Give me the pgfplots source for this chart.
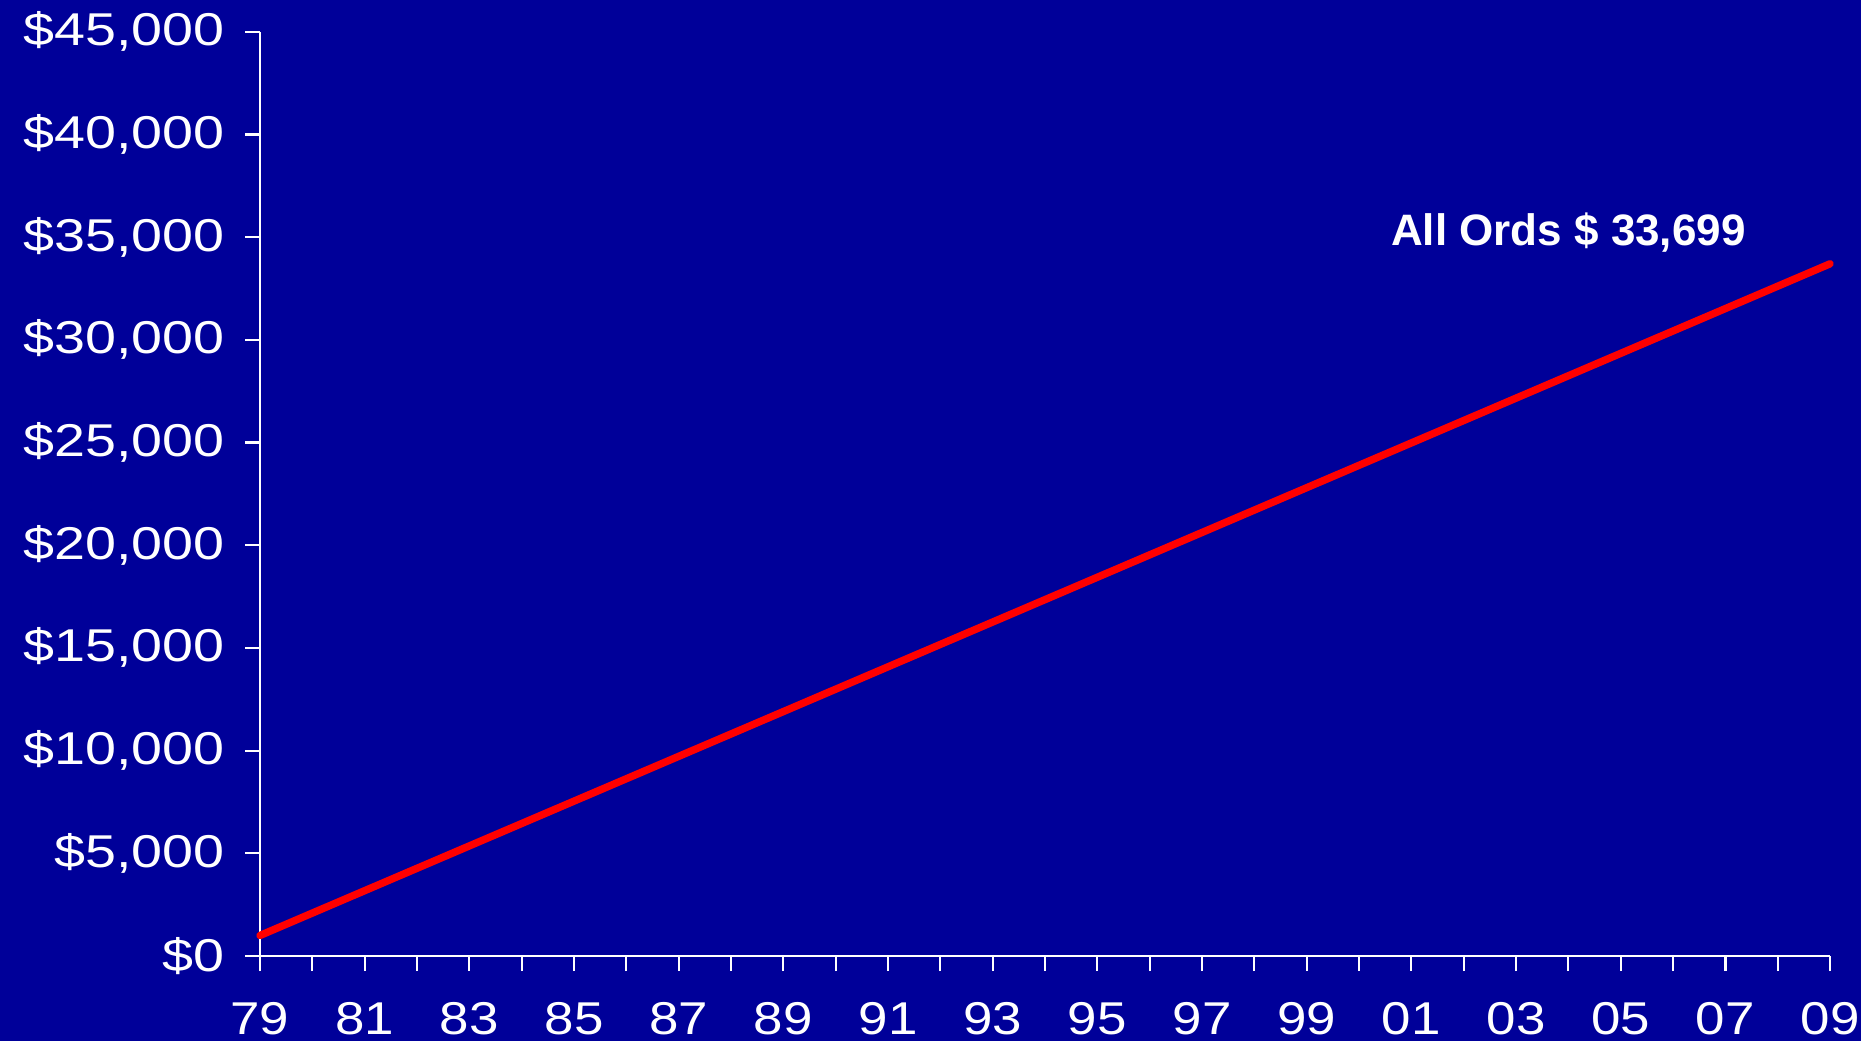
\documentclass[border=0pt]{standalone}
\usepackage{pgfplots}
\pgfplotsset{compat=1.18}
\usepackage{fontspec}
\setmainfont{Liberation Sans}
\definecolor{bgblue}{RGB}{0,0,153}
\begin{document}
\begin{tikzpicture}
\fill[bgblue] (0,0) rectangle (930.5pt,520.5pt);
\path[use as bounding box] (0,0) rectangle (930.5pt,520.5pt);
\begin{axis}[
  at={(130pt,42.5pt)}, anchor=south west,
  scale only axis, width=785pt, height=462.15pt,
  xmin=1979, xmax=2009, ymin=0, ymax=45000,
  axis lines*=left,
  axis line style={white, line width=1.1pt},
  every tick/.style={white, line width=1.1pt},
  tick align=outside,
  major tick length=7.5pt, minor tick length=7.5pt,
  scaled y ticks=false,
  xtick={1979,1981,...,2009},
  xticklabels={79,81,83,85,87,89,91,93,95,97,99,01,03,05,07,09},
  minor xtick={1980,1982,...,2008},
  ytick={0,5000,...,45000},
  yticklabels={{\$0},{\$5,000},{\$10,000},{\$15,000},{\$20,000},{\$25,000},{\$30,000},{\$35,000},{\$40,000},{\$45,000}},
  ticklabel style={font=\fontsize{23}{27}\selectfont, text=white},
  xticklabel style={anchor=center, yshift=-24pt, xscale=1.15},
  yticklabel style={xshift=-6pt, xscale=1.21},
  /pgf/number format/assume math mode=true,
  clip=false,
]
\addplot[red, line width=3.7pt, line cap=round] coordinates {(1979,1000) (2009,33699)};
\node[text=white, font=\bfseries\fontsize{22}{26}\selectfont] at (axis cs:2004,35230) {All Ords \$ 33,699};
\end{axis}
\end{tikzpicture}
\end{document}
